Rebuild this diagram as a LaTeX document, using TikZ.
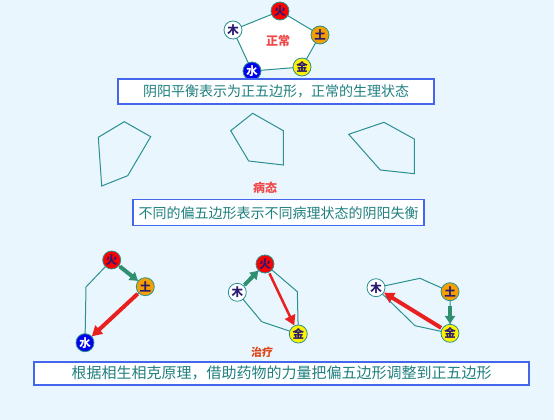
\documentclass[tikz,border=0pt]{standalone}
\usepackage{fontspec}
\newfontfamily\cjk{Noto Sans CJK SC}
\usetikzlibrary{positioning}
\usetikzlibrary{arrows.meta}
\definecolor{bgblue}{HTML}{EAF6FD}
\definecolor{lineteal}{HTML}{2A9090}
\definecolor{boxblue}{HTML}{4466EE}
\definecolor{textteal}{HTML}{1F7F7F}
\definecolor{labelred}{HTML}{F04848}
\definecolor{treatred}{HTML}{E0451A}
\definecolor{elemtext}{HTML}{2A1A70}
\definecolor{earthorange}{HTML}{F5A000}
\definecolor{waterblue}{HTML}{0000EE}
\definecolor{arrowgreen}{HTML}{2F8F70}
\definecolor{arrowred}{HTML}{E82020}
\tikzset{elem/.style={ % one of the five elements
			circle,
			draw=lineteal,
			thick,
			minimum size=18pt,
			inner sep=0pt,
			text=elemtext,
			font=\cjk\bfseries\fontsize{11.5}{11.5}\selectfont},
	fire/.style={elem, fill=red},
	earth/.style={elem, fill=earthorange},
	metal/.style={elem, fill=yellow},
	water/.style={elem, fill=waterblue, text=white},
	wood/.style={elem, fill=white},
	notebox/.style={draw=boxblue, line width=1.5pt, fill=white, text=textteal,
			inner sep=0pt},
	pentline/.style={draw=lineteal, line width=1pt},
	genarrow/.style={draw=arrowgreen, line width=4pt, -{Triangle[length=8pt,width=10pt]}, shorten <=1pt},
	ctrlarrow/.style={draw=arrowred, line width=4pt, -{Triangle[length=10pt,width=11pt]}, shorten <=1pt}}

\begin{document}
\begin{tikzpicture}[x=1pt,y=-1pt]
			\fill[bgblue] (0,0) rectangle (554,420);
			
			% normal state
			\fill[white, draw=lineteal, line width=1pt] (280,11) -- (320,35) -- (302,67) -- (252,71) -- (233,30) -- cycle;
			\node[fire] (F) at (280,11) {火};
			\node[earth] (E) at (320,35) {土};
			\node[metal] (M) at (302,67) {金};
			\node[water] (W) at (252,71) {水};
			\node[wood] (T) at (233,30) {木};
			\node[text=labelred, font=\cjk\bfseries\fontsize{12}{12}\selectfont] (normal) at (278,41) {正常};
			\node[notebox, minimum width=316pt, minimum height=25pt, font=\cjk\fontsize{14}{14}\selectfont] (note1) at (276,91.5) {阴阳平衡表示为正五边形，正常的生理状态};
			
			% diseased states
			\draw[pentline] (124.3,121.7) -- (150.7,136.7) -- (127.7,175.7) -- (101.7,186) -- (98.3,137.3) -- cycle;
			\draw[pentline] (252.7,113.3) -- (283.3,130.7) -- (283.3,165) -- (248.7,161) -- (230.7,130.7) -- cycle;
			\draw[pentline] (384,122.3) -- (414.3,139) -- (414.3,173.7) -- (380.3,170) -- (348.7,134.3) -- cycle;
			\node[text=labelred, font=\cjk\bfseries\fontsize{12}{12}\selectfont] (ill) at (265,188) {病态};
			\node[notebox, minimum width=291pt, minimum height=26pt, font=\cjk\fontsize{14}{14}\selectfont] (note2) at (278.5,212.7) {不同的偏五边形表示不同病理状态的阴阳失衡};
			
			% treatment, left
			\coordinate (L1) at (86,287);
			\draw[pentline] (111.7,260) -- (145.3,286.7) -- (85,342.7) -- (L1) -- cycle;
			\node[fire] (F1) at (111.7,260) {火};
			\node[earth] (E1) at (145.3,286.7) {土};
			\node[water] (W1) at (85,342.7) {水};
			\draw[genarrow] (F1) -- (E1);
			\draw[ctrlarrow] (E1) -- (W1);
			
			% treatment, middle
			\coordinate (L2) at (297.3,291.7);
			\coordinate (L3) at (261.7,321.7);
			\draw[pentline] (265,264) -- (L2) -- (298.3,334) -- (L3) -- (237.3,292.3) -- cycle;
			\node[fire] (F2) at (265,264) {火};
			\node[wood] (T2) at (237.3,292.3) {木};
			\node[metal] (M2) at (298.3,334) {金};
			\draw[genarrow] (T2) -- (F2);
			\draw[ctrlarrow, line width=2.5pt] (F2) -- (M2);
			
			% treatment, right
			\coordinate (L4) at (420,278.3);
			\coordinate (L5) at (415,325.7);
			\draw[pentline] (376,287.7) -- (L4) -- (450,291.7) -- (450,333.3) -- (L5) -- cycle;
			\node[wood] (T3) at (376,287.7) {木};
			\node[earth] (E3) at (450,291.7) {土};
			\node[metal] (M3) at (450,333.3) {金};
			\draw[genarrow, shorten <=5pt] (E3) -- (M3);
			\draw[ctrlarrow] (M3) -- (T3);
			
			\node[text=treatred, font=\cjk\bfseries\fontsize{11}{11}\selectfont] (treat) at (262,352) {治疗};
			\node[notebox, minimum width=495pt, minimum height=23pt, font=\cjk\fontsize{15}{15}\selectfont] (note3) at (281.5,373.3) {根据相生相克原理，借助药物的力量把偏五边形调整到正五边形};
		\end{tikzpicture}
\end{document}
